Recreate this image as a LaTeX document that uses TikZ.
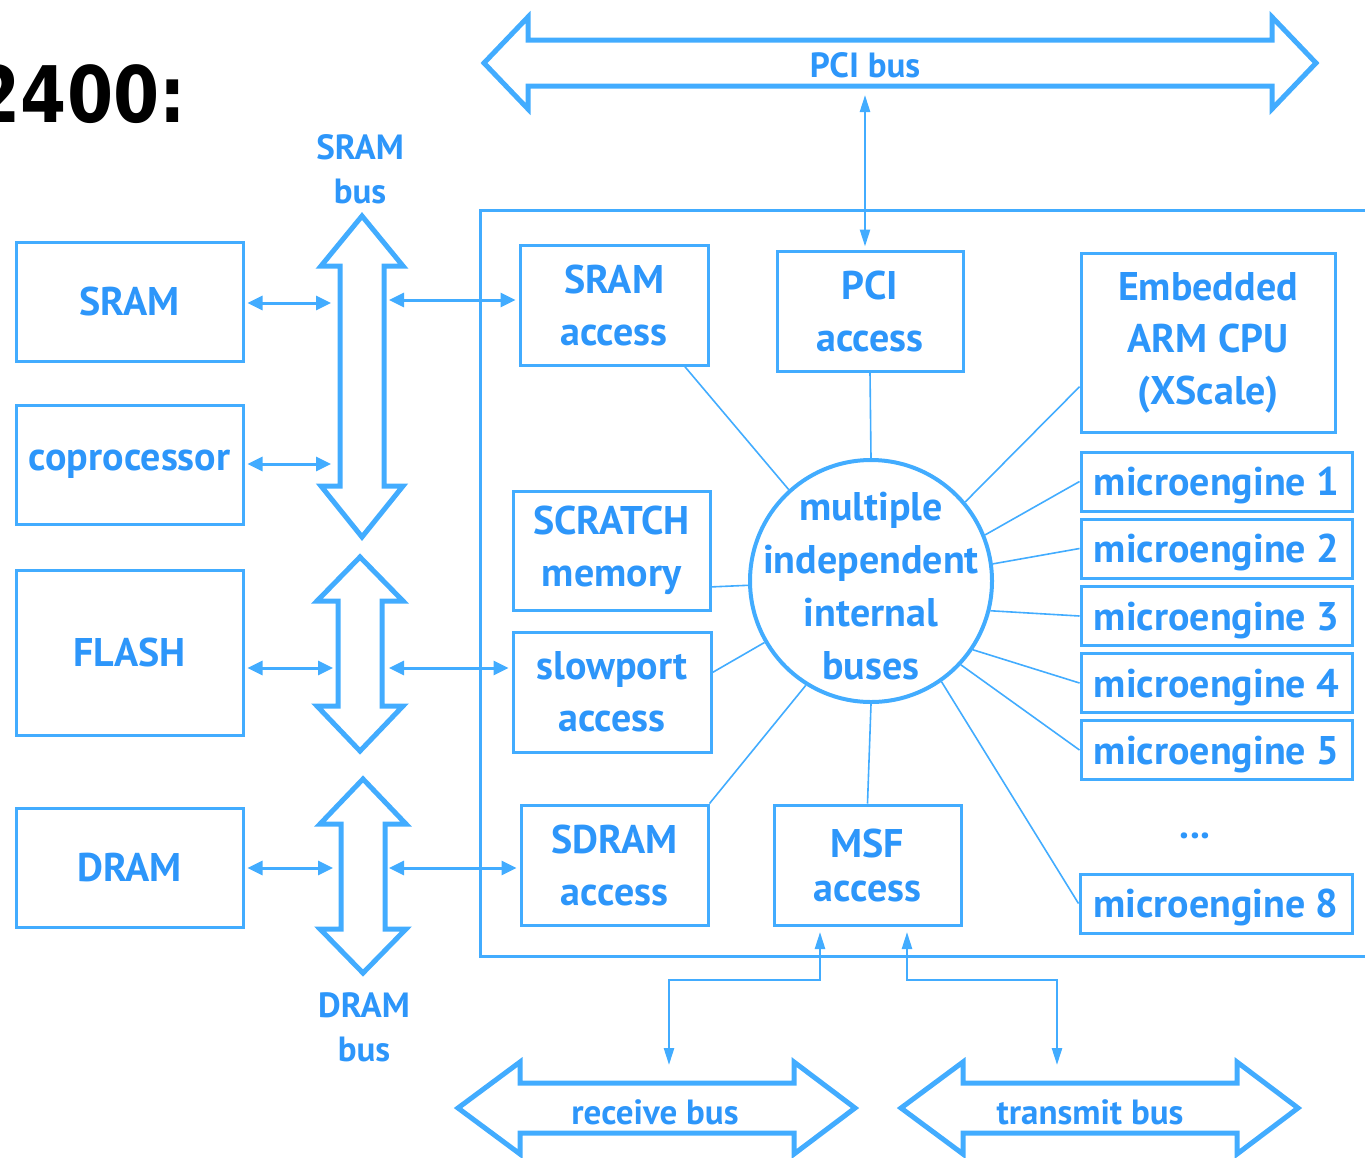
\documentclass[tikz,border=0pt]{standalone}
\usepackage{fontspec}
\setmainfont{PT Sans}
\newfontfamily\titlefont{DejaVu Sans}
\usetikzlibrary{arrows.meta,calc,positioning}
\definecolor{ixpline}{RGB}{66,172,255}
\definecolor{ixptext}{RGB}{45,150,250}

\begin{document}
\begin{tikzpicture}[x=1pt,y=-1pt,
  box/.style={draw=ixpline, line width=3pt, text=ixptext, align=center,
              inner sep=0pt, font=\bfseries\fontsize{40}{52}\selectfont},
  mebox/.style={box, minimum width=271pt, minimum height=59pt, text depth=0pt},
  lbl/.style={text=ixptext, align=center, inner sep=0pt, font=\bfseries\fontsize{35}{44}\selectfont},
  hub/.style={draw=ixpline, line width=4pt, circle, inner sep=0pt},
  busarrow/.style={draw=ixpline, line width=5pt, line join=miter},
  spoke/.style={draw=ixpline, line width=1.6pt},
  link/.style={draw=ixpline, line width=3pt,
               {Triangle[length=15pt,width=14pt]}-{Triangle[length=15pt,width=14pt]}},
  thinlink/.style={draw=ixpline, line width=2.5pt,
               {Triangle[length=17pt,width=10pt]}-{Triangle[length=17pt,width=10pt]}}]
\useasboundingbox (0,0) rectangle (1365,1157);

\node[anchor=base east, inner sep=0pt, font=\titlefont\bfseries\fontsize{78}{78}\selectfont]
  (title) at (186,122) {\scalebox{0.85}[1]{2400:}};

% left side devices
\node[box, minimum width=227pt, minimum height=119pt] (sram)  at (129.5,301.5) {SRAM};
\node[box, minimum width=227pt, minimum height=119pt] (copro) at (129.5,464.5) {coprocessor};
\node[box, minimum width=227pt, minimum height=165pt] (flash) at (129.5,652.5) {FLASH};
\node[box, minimum width=227pt, minimum height=119pt] (dram)  at (129.5,867.5) {DRAM};

% external buses
\draw[busarrow] (362,216) -- (403,266) -- (384,266) -- (384,486) -- (403,486) -- (362,537)
  -- (321,486) -- (340,486) -- (340,266) -- (321,266) -- cycle;
\draw[busarrow] (360,557) -- (403,601) -- (382,601) -- (382,706) -- (403,706) -- (360,751)
  -- (317,706) -- (338,706) -- (338,601) -- (317,601) -- cycle;
\draw[busarrow] (363,779) -- (406,824) -- (385,824) -- (385,929) -- (406,929) -- (363,973)
  -- (320,929) -- (341,929) -- (341,824) -- (320,824) -- cycle;
\draw[busarrow] (484,63) -- (528,17) -- (528,40) -- (1272,40) -- (1272,17) -- (1316,63)
  -- (1272,109) -- (1272,86) -- (528,86) -- (528,109) -- cycle;
\draw[busarrow] (458,1108) -- (520,1062) -- (520,1083) -- (794,1083) -- (794,1062) -- (855,1108)
  -- (794,1154) -- (794,1133) -- (520,1133) -- (520,1154) -- cycle;
\draw[busarrow] (901,1108) -- (963,1062) -- (963,1083) -- (1237,1083) -- (1237,1062) -- (1298,1108)
  -- (1237,1154) -- (1237,1133) -- (963,1133) -- (963,1154) -- cycle;

\node[lbl] (srambus) at (360,169) {SRAM\\bus};
\node[lbl] (drambus) at (364,1027) {DRAM\\bus};
\node[lbl] (pcibus) at (865,65) {PCI bus};
\node[lbl] (rxbus) at (655,1112) {receive bus};
\node[lbl] (txbus) at (1090,1112) {transmit bus};

% chip outline
\draw[draw=ixpline, line width=3pt] (480,210) rectangle (1385,956);

% units inside the chip
\node[box, minimum width=188pt, minimum height=120pt] (sracc)   at (614,305)    {SRAM\\access};
\node[box, minimum width=186pt, minimum height=120pt] (pciacc)  at (870,311)    {PCI\\access};
\node[box, minimum width=254pt, minimum height=179pt] (arm)     at (1208,342.5) {Embedded\\ARM CPU\\(XScale)};
\node[box, minimum width=197pt, minimum height=119pt] (scratch) at (611.5,550.5) {SCRATCH\\memory};
\node[box, minimum width=198pt, minimum height=120pt] (slow)    at (612,692)    {slowport\\access};
\node[box, minimum width=187pt, minimum height=120pt] (sdacc)   at (614.5,865)  {SDRAM\\access};
\node[box, minimum width=187pt, minimum height=120pt] (msf)     at (867.5,865)  {MSF\\[-8pt]access};
\node[mebox] (me1) at (1216.5,481.5) {microengine 1};
\node[mebox] (me2) at (1216.5,548.5) {microengine 2};
\node[mebox] (me3) at (1216.5,616)   {microengine 3};
\node[mebox] (me4) at (1216.5,683)   {microengine 4};
\node[mebox] (me5) at (1216.5,750)   {microengine 5};
\node[mebox, minimum width=272pt] (me8) at (1216,903.5) {microengine 8};
\node[lbl, font=\bfseries\fontsize{40}{40}\selectfont] (medots) at (1195,836) {...};

\node[hub, minimum size=242pt] (hub) at (871,581) {};
\node[lbl, font=\bfseries\fontsize{40}{53}\selectfont] (hubtxt) at (871,586)
  {multiple\\independent\\internal\\buses};

\draw[spoke] (hub.132) -- (sracc.319);
\draw[spoke] (hub.90)  -- (pciacc.south);
\draw[spoke] (hub.40)  -- (arm.199);
\draw[spoke] (hub.182) -- (scratch.340);
\draw[spoke] (hub.210) -- (slow.11);
\draw[spoke] (hub.238) -- (sdacc.north east);
\draw[spoke] (hub.270) -- (msf.north);
\foreach \m/\a in {me1/22,me2/8,me3/346,me4/326,me5/317,me8/305}
  \draw[spoke] (hub.\a) -- (\m.west);

% connections to the buses
\coordinate (srbusW1) at (331,303);
\coordinate (srbusW2) at (331,464);
\coordinate (srbusE)  at (389,300);
\coordinate (flbusW)  at (333,668);
\coordinate (flbusE)  at (389,668);
\coordinate (drbusW)  at (333,868);
\coordinate (drbusE)  at (389,868);

\draw[link, shorten <=3pt] (sram.east |- srbusW1) -- (srbusW1);
\draw[link, shorten <=3pt] (copro.east |- srbusW2) -- (srbusW2);
\draw[link, shorten >=3pt] (srbusE) -- (srbusE -| sracc.west);
\draw[link, shorten <=3pt] (flash.east |- flbusW) -- (flbusW);
\draw[link, shorten >=3pt] (flbusE) -- (flbusE -| slow.west);
\draw[link, shorten <=3pt] (dram.east |- drbusW) -- (drbusW);
\draw[link, shorten >=3pt] (drbusE) -- (drbusE -| sdacc.west);

\coordinate (pcitap) at (865,95);
\draw[thinlink, shorten >=3pt] (pcitap) -- (pcitap |- pciacc.north);

\coordinate (rxtap) at (820,932);
\coordinate (txtap) at (907,932);
\coordinate (rxin)  at (669,1065);
\coordinate (txin)  at (1057,1065);
\draw[thinlink] (rxtap) -- ++(0,48) -| (rxin);
\draw[thinlink] (txtap) -- ++(0,48) -| (txin);
\end{tikzpicture}
\end{document}
